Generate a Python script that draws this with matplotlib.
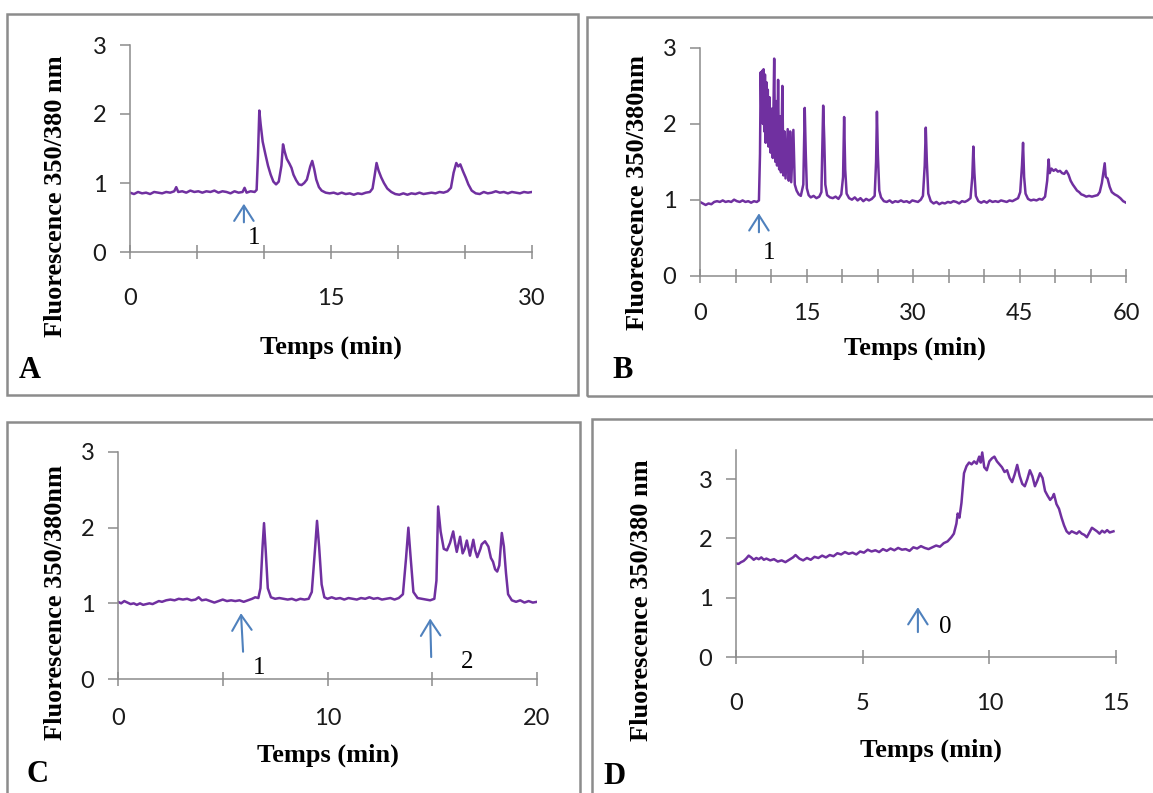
import matplotlib
matplotlib.use('Agg')
import matplotlib.pyplot as plt
from matplotlib.patches import Rectangle

# ---- data (time in min, ratio 350/380) ----

a_t = [0.0, 0.3, 0.6, 0.9, 1.2, 1.5, 1.8, 2.1, 2.4, 2.7, 3.0, 3.3, 3.45, 3.6, 3.9, 4.2, 4.5, 4.8,
       5.1, 5.4, 5.7, 6.0, 6.3, 6.6, 6.9, 7.2, 7.5, 7.8, 8.1, 8.4, 8.55, 8.7, 9.0, 9.3, 9.45, 9.55,
       9.65, 9.75, 9.9, 10.1, 10.3, 10.5, 10.7, 10.9, 11.1, 11.3, 11.42, 11.55, 11.7, 11.9, 12.05,
       12.2, 12.4, 12.6, 12.8, 13.0, 13.2, 13.45, 13.6, 13.75, 13.9, 14.1, 14.3, 14.6, 14.9, 15.2,
       15.5, 15.8, 16.1, 16.4, 16.7, 17.0, 17.3, 17.6, 17.9, 18.1, 18.25, 18.4, 18.55, 18.75, 18.95,
       19.2, 19.5, 19.8, 20.1, 20.4, 20.7, 21.0, 21.3, 21.6, 21.9, 22.2, 22.5, 22.8, 23.1, 23.4,
       23.7, 23.95, 24.15, 24.35, 24.5, 24.65, 24.85, 25.05, 25.25, 25.5, 25.8, 26.1, 26.4, 26.7,
       27.0, 27.3, 27.6, 27.9, 28.2, 28.5, 28.8, 29.1, 29.4, 29.7, 30.0]
a_v = [0.86, 0.84, 0.87, 0.85, 0.86, 0.84, 0.87, 0.86, 0.85, 0.87, 0.86, 0.88, 0.94, 0.87, 0.88,
       0.86, 0.89, 0.87, 0.88, 0.86, 0.88, 0.87, 0.89, 0.86, 0.88, 0.87, 0.85, 0.88, 0.86, 0.87,
       0.93, 0.86, 0.88, 0.87, 0.90, 1.40, 2.05, 1.85, 1.60, 1.42, 1.25, 1.12, 1.02, 0.98, 1.02,
       1.25, 1.56, 1.45, 1.35, 1.28, 1.22, 1.12, 1.04, 0.98, 0.97, 1.00, 1.05, 1.24, 1.32, 1.20,
       1.05, 0.94, 0.89, 0.86, 0.85, 0.86, 0.84, 0.86, 0.84, 0.85, 0.83, 0.85, 0.84, 0.86, 0.87,
       0.92, 1.10, 1.29, 1.18, 1.08, 1.00, 0.92, 0.87, 0.84, 0.83, 0.85, 0.83, 0.85, 0.84, 0.86,
       0.84, 0.85, 0.86, 0.85, 0.87, 0.86, 0.88, 0.93, 1.15, 1.29, 1.24, 1.27, 1.17, 1.08, 0.98,
       0.89, 0.85, 0.84, 0.87, 0.85, 0.86, 0.88, 0.86, 0.87, 0.85, 0.87, 0.86, 0.85, 0.87, 0.86,
       0.87]

b_t = [0.0, 0.4, 0.8, 1.2, 1.6, 2.0, 2.4, 2.8, 3.2, 3.6, 4.0, 4.4, 4.8, 5.2, 5.6, 6.0, 6.4, 6.8,
       7.2, 7.6, 8.0, 8.3, 8.45, 8.55, 8.65, 8.75, 8.85, 8.95, 9.05, 9.15, 9.25, 9.35, 9.45, 9.55,
       9.65, 9.8, 9.95, 10.1, 10.25, 10.45, 10.6, 10.75, 10.85, 11.0, 11.15, 11.3, 11.4, 11.6,
       11.75, 11.9, 12.05, 12.35, 12.5, 12.7, 12.85, 13.15, 13.35, 13.6, 13.9, 14.2, 14.55, 14.75,
       14.9, 15.05, 15.3, 15.6, 16.0, 16.4, 16.8, 17.1, 17.35, 17.5, 17.65, 17.9, 18.3, 18.7, 19.1,
       19.5, 19.9, 20.15, 20.3, 20.45, 20.65, 21.0, 21.4, 21.8, 22.2, 22.6, 23.0, 23.4, 23.8, 24.2,
       24.6, 24.8, 24.92, 25.05, 25.25, 25.5, 25.9, 26.3, 26.7, 27.1, 27.5, 27.9, 28.3, 28.7, 29.1,
       29.5, 29.9, 30.3, 30.7, 31.1, 31.4, 31.65, 31.8, 31.95, 32.15, 32.5, 32.9, 33.3, 33.7, 34.1,
       34.5, 34.9, 35.3, 35.7, 36.1, 36.5, 36.9, 37.3, 37.7, 38.1, 38.35, 38.5, 38.65, 38.85, 39.2,
       39.6, 40.0, 40.4, 40.8, 41.2, 41.6, 42.0, 42.4, 42.8, 43.2, 43.6, 44.0, 44.4, 44.8, 45.1,
       45.35, 45.5, 45.65, 45.85, 46.2, 46.6, 47.0, 47.4, 47.8, 48.2, 48.6, 48.9, 49.1, 49.25, 49.5,
       49.8, 50.1, 50.4, 50.7, 51.0, 51.3, 51.6, 51.9, 52.2, 52.5, 52.8, 53.1, 53.4, 53.7, 54.0,
       54.4, 54.8, 55.2, 55.6, 56.0, 56.3, 56.6, 56.85, 57.0, 57.15, 57.4, 57.7, 58.0, 58.4, 58.8,
       59.2, 59.6, 60.0]
b_v = [0.97, 0.95, 0.93, 0.95, 0.94, 0.97, 0.98, 0.97, 0.99, 0.97, 0.98, 0.97, 1.00, 0.98, 0.97,
       0.99, 0.97, 0.98, 0.96, 0.98, 0.97, 0.99, 1.60, 2.68, 2.10, 2.70, 2.00, 2.72, 1.90, 2.65,
       1.75, 2.55, 1.80, 2.45, 1.70, 2.35, 1.62, 2.20, 1.55, 2.86, 1.50, 2.30, 1.45, 2.58, 1.40,
       2.10, 1.36, 2.50, 1.32, 1.90, 1.28, 1.93, 1.25, 1.90, 1.23, 1.92, 1.20, 1.12, 1.07, 1.05,
       1.20, 2.21, 1.60, 1.15, 1.06, 1.03, 1.05, 1.02, 1.04, 1.10, 2.24, 1.80, 1.20, 1.06, 1.03,
       1.02, 1.04, 1.01, 1.07, 1.30, 2.09, 1.40, 1.08, 1.02, 1.00, 1.03, 0.99, 1.02, 0.98, 1.01,
       0.99, 1.01, 1.05, 1.50, 2.16, 1.60, 1.12, 1.03, 0.98, 0.97, 0.99, 0.96, 0.98, 0.97, 0.99,
       0.97, 0.98, 0.96, 0.99, 0.98, 0.97, 1.00, 1.05, 1.45, 1.95, 1.50, 1.08, 0.98, 0.95, 0.97,
       0.94, 0.96, 0.95, 0.97, 0.96, 0.98, 0.97, 0.95, 0.98, 0.97, 0.99, 1.02, 1.30, 1.70, 1.35,
       1.05, 0.98, 0.96, 0.98, 0.96, 0.99, 0.97, 0.98, 0.97, 0.99, 0.98, 0.97, 0.99, 0.98, 1.00,
       1.02, 1.10, 1.45, 1.75, 1.30, 1.08, 1.01, 0.99, 1.00, 0.99, 1.01, 1.00, 1.04, 1.25, 1.53,
       1.35, 1.41, 1.38, 1.40, 1.37, 1.38, 1.35, 1.34, 1.38, 1.33, 1.25, 1.20, 1.16, 1.12, 1.10,
       1.07, 1.06, 1.04, 1.05, 1.04, 1.05, 1.06, 1.10, 1.22, 1.38, 1.48, 1.30, 1.28, 1.17, 1.10,
       1.07, 1.05, 1.02, 0.98, 0.96]

c_t = [0.0, 0.15, 0.3, 0.45, 0.6, 0.75, 0.9, 1.05, 1.2, 1.35, 1.5, 1.65, 1.8, 1.95, 2.1, 2.3, 2.5,
       2.7, 2.9, 3.1, 3.3, 3.5, 3.7, 3.85, 4.0, 4.2, 4.4, 4.6, 4.8, 5.0, 5.2, 5.4, 5.6, 5.8, 6.0,
       6.2, 6.4, 6.55, 6.7, 6.8, 6.9, 6.97, 7.05, 7.15, 7.3, 7.5, 7.7, 7.9, 8.1, 8.3, 8.5, 8.7,
       8.9, 9.1, 9.25, 9.4, 9.5, 9.6, 9.72, 9.85, 10.0, 10.2, 10.4, 10.6, 10.8, 11.0, 11.2, 11.4,
       11.6, 11.8, 12.0, 12.2, 12.4, 12.6, 12.8, 13.0, 13.2, 13.4, 13.6, 13.75, 13.86, 13.97, 14.1,
       14.3, 14.5, 14.7, 14.9, 15.1, 15.2, 15.28, 15.4, 15.55, 15.7, 15.85, 16.0, 16.1, 16.17,
       16.33, 16.45, 16.55, 16.65, 16.8, 16.96, 17.05, 17.15, 17.3, 17.36, 17.52, 17.68, 17.8,
       17.9, 18.0, 18.1, 18.2, 18.32, 18.42, 18.52, 18.62, 18.8, 19.0, 19.2, 19.4, 19.6, 19.8,
       20.0]
c_v = [1.02, 1.00, 1.03, 1.01, 0.99, 1.00, 0.98, 1.00, 0.98, 0.99, 1.00, 0.99, 1.01, 1.03, 1.02,
       1.04, 1.05, 1.04, 1.06, 1.05, 1.06, 1.04, 1.05, 1.08, 1.04, 1.05, 1.03, 1.01, 1.03, 1.05,
       1.03, 1.04, 1.03, 1.04, 1.02, 1.04, 1.06, 1.08, 1.07, 1.20, 1.75, 2.06, 1.70, 1.20, 1.08,
       1.06, 1.07, 1.06, 1.05, 1.06, 1.04, 1.06, 1.05, 1.06, 1.15, 1.70, 2.09, 1.75, 1.25, 1.08,
       1.06, 1.08, 1.06, 1.07, 1.05, 1.07, 1.06, 1.05, 1.07, 1.06, 1.08, 1.06, 1.07, 1.05, 1.06,
       1.07, 1.05, 1.07, 1.12, 1.60, 2.00, 1.60, 1.15, 1.07, 1.06, 1.05, 1.04, 1.06, 1.30, 2.28,
       1.95, 1.72, 1.70, 1.80, 1.95, 1.78, 1.68, 1.88, 1.66, 1.72, 1.83, 1.63, 1.84, 1.70, 1.61,
       1.72, 1.78, 1.82, 1.75, 1.60, 1.55, 1.45, 1.42, 1.50, 1.93, 1.75, 1.40, 1.12, 1.04, 1.02,
       1.04, 1.01, 1.03, 1.01, 1.02]

d_t = [0.0, 0.1, 0.2, 0.3, 0.4, 0.5, 0.6, 0.7, 0.8, 0.9, 1.0, 1.1, 1.2, 1.35, 1.5, 1.65, 1.8, 1.95,
       2.1, 2.25, 2.35, 2.5, 2.65, 2.8, 2.95, 3.1, 3.25, 3.4, 3.55, 3.7, 3.85, 4.0, 4.15, 4.3, 4.45,
       4.6, 4.75, 4.9, 5.05, 5.2, 5.35, 5.5, 5.65, 5.8, 5.95, 6.1, 6.25, 6.4, 6.55, 6.7, 6.85, 7.0,
       7.15, 7.3, 7.45, 7.6, 7.75, 7.9, 8.05, 8.2, 8.35, 8.5, 8.6, 8.7, 8.75, 8.82, 8.9, 9.0, 9.1,
       9.2, 9.3, 9.4, 9.5, 9.6, 9.66, 9.72, 9.8, 9.9, 10.0, 10.1, 10.2, 10.3, 10.4, 10.5, 10.6,
       10.7, 10.8, 10.9, 11.0, 11.1, 11.2, 11.3, 11.4, 11.5, 11.6, 11.7, 11.8, 11.9, 12.0, 12.1,
       12.2, 12.3, 12.4, 12.5, 12.55, 12.65, 12.75, 12.85, 12.95, 13.05, 13.15, 13.25, 13.35,
       13.45, 13.55, 13.65, 13.75, 13.85, 13.95, 14.05, 14.15, 14.25, 14.35, 14.45, 14.55, 14.65,
       14.75, 14.9]
d_v = [1.58, 1.57, 1.60, 1.62, 1.66, 1.71, 1.68, 1.64, 1.67, 1.65, 1.68, 1.64, 1.66, 1.63, 1.65,
       1.61, 1.63, 1.60, 1.64, 1.68, 1.72, 1.66, 1.63, 1.67, 1.64, 1.69, 1.67, 1.71, 1.68, 1.72,
       1.70, 1.75, 1.73, 1.77, 1.74, 1.76, 1.73, 1.78, 1.76, 1.81, 1.78, 1.80, 1.77, 1.82, 1.79,
       1.83, 1.80, 1.84, 1.81, 1.82, 1.79, 1.85, 1.83, 1.87, 1.84, 1.82, 1.85, 1.88, 1.86, 1.92,
       1.95, 2.02, 2.08, 2.25, 2.42, 2.35, 2.60, 3.10, 3.22, 3.28, 3.25, 3.30, 3.26, 3.38, 3.28,
       3.45, 3.20, 3.15, 3.30, 3.35, 3.38, 3.30, 3.25, 3.20, 3.12, 3.15, 3.02, 2.95, 3.08, 3.24,
       3.05, 2.92, 2.88, 3.00, 3.15, 3.05, 2.88, 2.98, 3.10, 3.02, 2.80, 2.72, 2.65, 2.70, 2.75,
       2.58, 2.50, 2.35, 2.22, 2.12, 2.08, 2.12, 2.10, 2.08, 2.12, 2.08, 2.06, 2.02, 2.10, 2.18,
       2.15, 2.12, 2.08, 2.13, 2.10, 2.14, 2.10, 2.12]

W, H = 1153, 793
PURPLE = '#7030A0'
BLUE = '#4F81BD'
GRAY = '#8c8c8c'
SERIF = 'Liberation Serif'
SANS = 'Lato'

fig = plt.figure(figsize=(W / 100, H / 100), dpi=100)


def fx(px):
    return px / W


def fy(py):
    return 1 - py / H


def make_axes(l, t, r, b):
    # pixel box of the plotting area -> figure fraction
    return fig.add_axes([fx(l), fy(b), (r - l) / W, (b - t) / H])


def style(ax, xmax, ymax, major, minor, xpad):
    ax.set_xlim(0, xmax)
    ax.set_ylim(0, ymax)
    for s in ['top', 'right']:
        ax.spines[s].set_visible(False)
    for s in ['left', 'bottom']:
        ax.spines[s].set_color(GRAY)
        ax.spines[s].set_linewidth(1.1)
    ax.set_xticks(major)
    ax.set_xticks(minor, minor=True)
    ax.set_yticks([0, 1, 2, 3])
    ax.tick_params(axis='x', which='both', direction='inout', length=10, width=1.1,
                   color=GRAY, pad=xpad, labelsize=17, labelcolor='#1a1a1a')
    ax.tick_params(axis='y', direction='out', length=7, width=1.1, color=GRAY,
                   pad=10, labelsize=17, labelcolor='#1a1a1a')
    for lab in ax.get_xticklabels() + ax.get_yticklabels():
        lab.set_fontfamily(SANS)


def arrow(ax, x0, y0, x1, y1):
    ax.annotate('', xy=(x1, y1), xytext=(x0, y0),
                arrowprops=dict(arrowstyle='->,head_length=0.55,head_width=0.35',
                                color=BLUE, lw=1.5, mutation_scale=20, shrinkA=0, shrinkB=0))


def note(ax, x, y, s):
    ax.text(x, y, s, fontsize=18, family=SERIF, ha='center', va='center')


def labels(xl, yl, ylx, yly, xlx, xly, letter, lx, ly):
    fig.text(fx(ylx), fy(yly), yl, rotation=90, fontsize=19, fontweight='bold',
             family=SERIF, ha='center', va='center')
    fig.text(fx(xlx), fy(xly), xl, fontsize=19, fontweight='bold',
             family=SERIF, ha='center', va='center')
    fig.text(fx(lx), fy(ly), letter, fontsize=22, fontweight='bold',
             family=SERIF, ha='center', va='center')


# frames round each panel
for (l, t, r, b) in [(7, 14, 578, 395), (587, 17, 1165, 396),
                     (7, 422, 580, 810), (592, 419, 1165, 810)]:
    fig.add_artist(Rectangle((fx(l), fy(b)), (r - l) / W, (b - t) / H,
                             transform=fig.transFigure, fill=False,
                             edgecolor=GRAY, linewidth=1.8))

# A
axA = make_axes(130, 45, 532, 252)
axA.plot(a_t, a_v, color=PURPLE, lw=1.8)
style(axA, 30, 3, [0, 15, 30], [5, 10, 20, 25], 21)
arrow(axA, 8.5, 0.43, 8.5, 0.70)
note(axA, 9.25, 0.2, '1')
labels('Temps (min)', 'Fluorescence 350/380 nm', 55, 196, 331, 347, 'A', 30, 370)

# B
axB = make_axes(700, 48, 1126, 275.5)
axB.plot(b_t, b_v, color=PURPLE, lw=1.8)
style(axB, 60, 3, [0, 15, 30, 45, 60], [5, 10, 20, 25, 35, 40, 50, 55], 15)
arrow(axB, 8.3, 0.57, 8.3, 0.82)
note(axB, 9.7, 0.30, '1')
labels('Temps (min)', 'Fluorescence 350/380nm', 637, 193, 915, 348, 'B', 623, 370)

# C
axC = make_axes(118, 452, 537, 679)
axC.plot(c_t, c_v, color=PURPLE, lw=1.8)
style(axC, 20, 3, [0, 10, 20], [5, 15], 16)
arrow(axC, 5.97, 0.36, 5.87, 0.87)
note(axC, 6.73, 0.15, '1')
arrow(axC, 14.95, 0.29, 14.9, 0.80)
note(axC, 16.66, 0.22, '2')
labels('Temps (min)', 'Fluorescence 350/380nm', 55, 602, 328, 755, 'C', 37, 775)

# D
axD = make_axes(736, 449.5, 1116, 657)
axD.plot(d_t, d_v, color=PURPLE, lw=1.8)
style(axD, 15, 3.5, [0, 5, 10, 15], [], 21)
arrow(axD, 7.18, 0.42, 7.18, 0.84)
note(axD, 8.25, 0.5, '0')
labels('Temps (min)', 'Fluorescence 350/380 nm', 642, 600, 931, 750, 'D', 615, 777)

fig.savefig('out.png', dpi=100)
